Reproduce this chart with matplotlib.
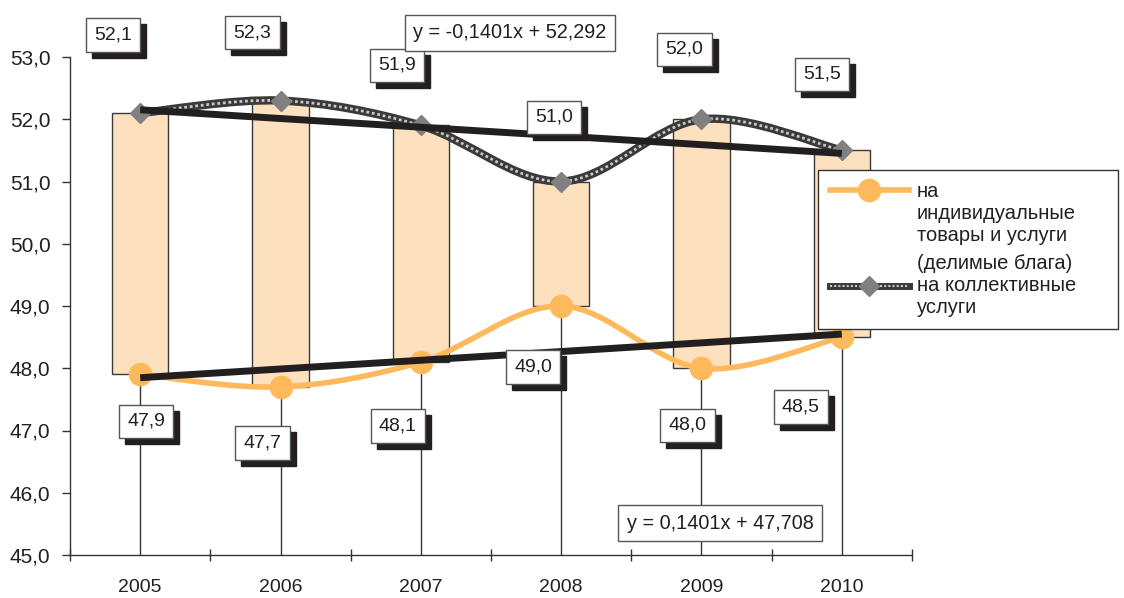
"""Share of final consumption: individual vs collective, 2005-2010."""

import matplotlib.pyplot as plt
from matplotlib.path import Path
from matplotlib.patches import PathPatch
from matplotlib.lines import Line2D
from matplotlib.legend_handler import HandlerLine2D

plt.rcParams["font.family"] = ["Liberation Sans", "DejaVu Sans"]

# ---------------------------------------------------------------
# Data
# ---------------------------------------------------------------
years = ["2005", "2006", "2007", "2008", "2009", "2010"]
individual = [47.9, 47.7, 48.1, 49.0, 48.0, 48.5]
collective = [52.1, 52.3, 51.9, 51.0, 52.0, 51.5]
yticks = [45.0, 46.0, 47.0, 48.0, 49.0, 50.0, 51.0, 52.0, 53.0]

ind_label = "на\nиндивидуальные\nтовары и услуги"
col_label = "(делимые блага)\nна коллективные\nуслуги"

# trend lines (x = 1..6)
ind_slope, ind_icpt = 0.1401, 47.708
col_slope, col_icpt = -0.1401, 52.292

# label offsets in pixels from each point
col_offsets = [(-27, 78), (-28, 68), (-24, 60), (-7, 64), (-17, 70), (-20, 76)]
ind_offsets = [(6, -47), (-18, -56), (-23, -64), (-28, -61), (-14, -57), (-41, -70)]

ORANGE = "#FDB95C"
PEACH = "#FDE1BE"
DARK = "#231F20"
GREY = "#333333"
LEG_FS = 14.5
LEG_LS = 1.2


def fmt(v):
    return f"{v:.1f}".replace(".", ",")


def smooth_path(xs, ys):
    # Excel-style smoothed line: cubic Bezier segments through the points
    pts = list(zip(xs, ys))
    verts = [pts[0]]
    codes = [Path.MOVETO]
    n = len(pts)
    for i in range(n - 1):
        p0 = pts[max(i - 1, 0)]
        p1 = pts[i]
        p2 = pts[i + 1]
        p3 = pts[min(i + 2, n - 1)]
        c1 = (p1[0] + (p2[0] - p0[0]) / 6, p1[1] + (p2[1] - p0[1]) / 6)
        c2 = (p2[0] - (p3[0] - p1[0]) / 6, p2[1] - (p3[1] - p1[1]) / 6)
        verts += [c1, c2, p2]
        codes += [Path.CURVE4] * 3
    return Path(verts, codes)


class TopLineHandler(HandlerLine2D):
    # put the legend key next to the first line of a multi-line label
    def create_artists(self, legend, orig_handle, xdescent, ydescent,
                       width, height, fontsize, trans):
        arts = super().create_artists(legend, orig_handle, xdescent, ydescent,
                                      width, height, fontsize, trans)
        for a in arts:
            a.set_ydata([y + fontsize * LEG_LS for y in a.get_ydata()])
        return arts


x = list(range(len(years)))

fig = plt.figure(figsize=(11.24, 5.98), dpi=100)
ax = fig.add_axes([70 / 1124, 1 - 555 / 598, 842 / 1124, 498 / 598])
ax.set_xlim(-0.5, len(years) - 0.5)
ax.set_ylim(45, 53)

# drop lines
ax.vlines(x, 45, collective, color=GREY, lw=1, zorder=1)

# up/down bars
heights = [c - i for c, i in zip(collective, individual)]
ax.bar(x, heights, bottom=individual, width=0.4, color=PEACH,
       edgecolor="#3a3a3a", linewidth=1, zorder=2)

# smoothed series
ax.add_patch(PathPatch(smooth_path(x, individual), fill=False,
                       edgecolor=ORANGE, lw=4, zorder=3, capstyle="round"))
ax.plot(x, individual, "o", color=ORANGE, ms=16, zorder=4)

ax.add_patch(PathPatch(smooth_path(x, collective), fill=False,
                       edgecolor="#3a3a3a", lw=6, zorder=3))
ax.add_patch(PathPatch(smooth_path(x, collective), fill=False,
                       edgecolor="#c8c8c8", lw=2, ls=(0, (1, 1)), zorder=3))
ax.plot(x, collective, "D", color="#808080", ms=10, zorder=4)

# linear trends
tx = [x[0], x[-1]]
ax.plot(tx, [ind_slope * (t + 1) + ind_icpt for t in tx], color=DARK, lw=5,
        zorder=5, solid_capstyle="butt")
ax.plot(tx, [col_slope * (t + 1) + col_icpt for t in tx], color=DARK, lw=5,
        zorder=5, solid_capstyle="butt")

# value labels with shadow boxes
for values, offsets in ((collective, col_offsets), (individual, ind_offsets)):
    for xi, v, (dx, dy) in zip(x, values, offsets):
        ax.annotate(fmt(v), (xi, v), xytext=(dx + 6, dy - 6), textcoords="offset pixels",
                    ha="center", va="center", fontsize=14, color=DARK,
                    bbox=dict(boxstyle="square,pad=0.42", fc=DARK, ec=DARK, lw=1),
                    zorder=8)
        ax.annotate(fmt(v), (xi, v), xytext=(dx, dy), textcoords="offset pixels",
                    ha="center", va="center", fontsize=14, color=DARK,
                    bbox=dict(boxstyle="square,pad=0.42", fc="white", ec="#555555", lw=1),
                    zorder=9)

# trend equations
ax.text(2.636, 53.386, "y = -0,1401x + 52,292", ha="center", va="center",
        fontsize=14.3, color=DARK, zorder=10,
        bbox=dict(boxstyle="square,pad=0.42", fc="white", ec="#555555", lw=1))
ax.text(4.133, 45.514, "y = 0,1401x + 47,708", ha="center", va="center",
        fontsize=14.3, color=DARK, zorder=10,
        bbox=dict(boxstyle="square,pad=0.42", fc="white", ec="#555555", lw=1))

# axes styling
for s in ("top", "right"):
    ax.spines[s].set_visible(False)
for s in ("left", "bottom"):
    ax.spines[s].set_color(GREY)
    ax.spines[s].set_linewidth(1)

ax.set_yticks(yticks, [fmt(v) for v in yticks])
ax.tick_params(axis="y", length=6, width=1, color=GREY, labelsize=15,
               labelcolor=DARK, pad=8)
ax.set_xticks([t - 0.5 for t in range(len(years) + 1)], [""] * (len(years) + 1))
ax.tick_params(axis="x", which="major", direction="inout", length=9, width=1, color=GREY)
ax.set_xticks(x, years, minor=True)
ax.tick_params(axis="x", which="minor", length=0, labelsize=14, labelcolor=DARK, pad=17)

# legend
h_ind = Line2D([], [], color=ORANGE, lw=4, marker="o", ms=16)
h_col = (Line2D([], [], color="#3a3a3a", lw=5),
         Line2D([], [], color="#c8c8c8", lw=1.5, ls=(0, (1, 1))),
         Line2D([], [], ls="none", marker="D", color="#808080", ms=10))
leg = fig.legend([h_ind, h_col], [ind_label, col_label], loc="upper left",
                 bbox_to_anchor=(818 / 1124, 1 - 326 / 598, 300 / 1124, 156 / 598),
                 mode="expand", fontsize=LEG_FS, handlelength=3.9, handletextpad=0.4,
                 borderpad=0.6, labelspacing=0.45, fancybox=False, framealpha=1,
                 edgecolor=GREY, borderaxespad=0,
                 handler_map={h_ind: TopLineHandler()})
leg.get_frame().set_linewidth(1)
for t in leg.get_texts():
    t.set_color(DARK)
    t.set_linespacing(LEG_LS)

fig.savefig("out.png", dpi=100)
